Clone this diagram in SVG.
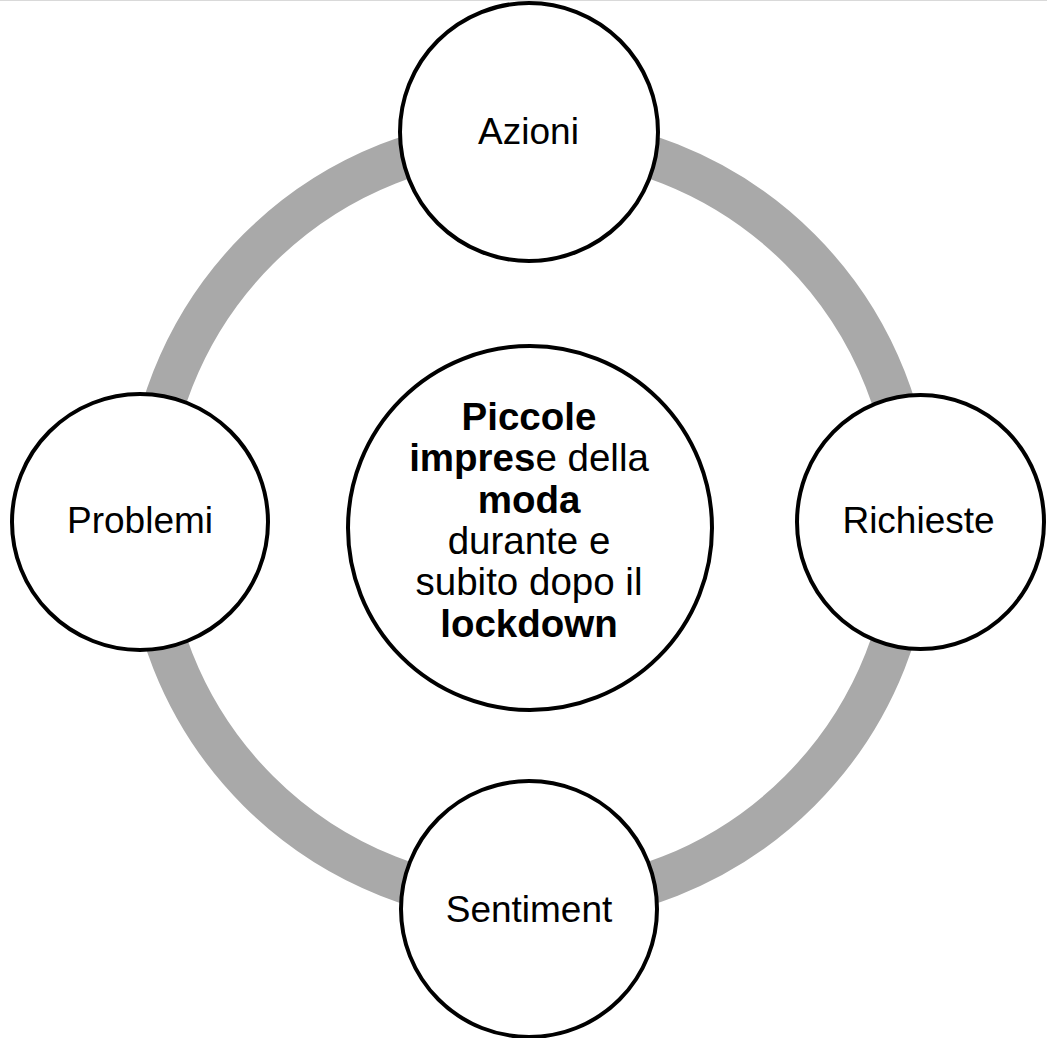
<svg xmlns="http://www.w3.org/2000/svg" width="1047" height="1038" viewBox="0 0 1047 1038">
<style>
.node{fill:#ffffff;stroke:#000000;stroke-width:4}
.lbl{font-family:"Liberation Sans",Arial,sans-serif;font-size:37px;fill:#000000;text-anchor:middle}
.ctr{font-family:"Liberation Sans",Arial,sans-serif;font-size:38.5px;fill:#000000;text-anchor:middle}
.b{font-weight:bold}
</style>
<rect x="0" y="0" width="1047" height="1038" fill="#ffffff"/>
<rect x="0" y="0" width="1047" height="1" fill="#d9d9d9"/>
<g id="connectors">
<circle cx="529" cy="520" r="383" fill="none" stroke="#a9a9a9" stroke-width="42"/>
</g>
<g id="center">
<circle class="node" cx="530" cy="528" r="182"/>
<text class="ctr b" x="529" y="430">Piccole</text>
<text class="ctr" x="529" y="471"><tspan class="b">impres</tspan>e della</text>
<text class="ctr b" x="529" y="512.5">moda</text>
<text class="ctr" x="529" y="553.5">durante e</text>
<text class="ctr" x="529" y="595">subito dopo il</text>
<text class="ctr b" x="529" y="636.5">lockdown</text>
</g>
<g id="azioni">
<circle class="node" cx="529" cy="132" r="129"/>
<text class="lbl" x="528.5" y="144">Azioni</text>
</g>
<g id="richieste">
<ellipse class="node" cx="920.5" cy="522" rx="123.5" ry="127"/>
<text class="lbl" x="918.5" y="533">Richieste</text>
</g>
<g id="sentiment">
<circle class="node" cx="529" cy="909" r="128"/>
<text class="lbl" x="529" y="921.5">Sentiment</text>
</g>
<g id="problemi">
<circle class="node" cx="140" cy="522" r="128"/>
<text class="lbl" x="140" y="533">Problemi</text>
</g>
</svg>
